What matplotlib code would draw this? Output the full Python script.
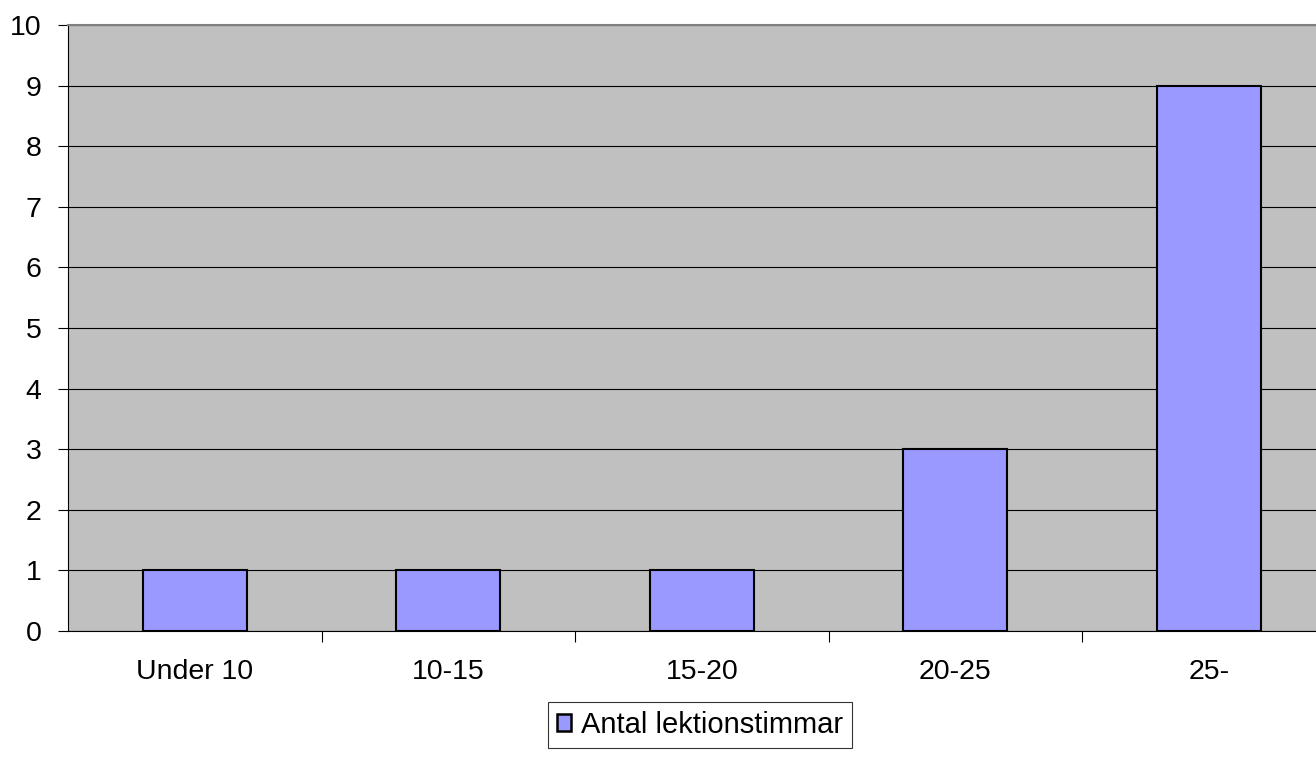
import numpy as np
import matplotlib
matplotlib.use("Agg")
import matplotlib.pyplot as plt

categories = ["Under 10", "10-15", "15-20", "20-25", "25-"]
values = [1, 1, 1, 3, 9]
series_name = "Antal lektionstimmar"
y_ticks = list(range(0, 11))

plt.rcParams['font.family'] = ['Liberation Sans', 'DejaVu Sans']

W, H = 1316, 773
fig = plt.figure(figsize=(W / 100, H / 100), dpi=100)

# plot area runs past the right edge, like the original
left, right, top, bottom = 68, 1335.5, 25, 631
ax = fig.add_axes([left / W, (H - bottom) / H, (right - left) / W, (bottom - top) / H])
ax.set_facecolor('#C0C0C0')

x = np.arange(len(categories))
ax.bar(x, values, width=0.41, color='#9999FF', edgecolor='black', linewidth=1.5,
       zorder=3, label=series_name)

ax.set_xlim(-0.5, len(categories) - 0.5)
ax.set_ylim(0, 10)
ax.set_yticks(y_ticks)
ax.set_yticklabels([str(t) for t in y_ticks], fontsize=20.5)
ax.yaxis.grid(True, color='black', linewidth=0.8, zorder=1)
ax.set_axisbelow(True)

# category boundaries as ticks, labels centered between them
ax.set_xticks(np.arange(0.5, len(categories) - 0.5, 1.0))
ax.set_xticklabels([])
ax.set_xticks(x, minor=True)
ax.set_xticklabels(categories, minor=True, fontsize=20.5)
ax.tick_params(axis='x', which='major', length=8, width=0.8, direction='out')
ax.tick_params(axis='x', which='minor', length=0, pad=20)
ax.tick_params(axis='y', length=7, width=0.8, pad=12)

ax.spines['top'].set_color('#808080')
ax.spines['top'].set_linewidth(1.5)
ax.spines['left'].set_color('black')
ax.spines['bottom'].set_color('black')
ax.spines['right'].set_visible(False)

leg = fig.legend(loc='center', bbox_to_anchor=(700 / W, (H - 725) / H), fontsize=21,
                 frameon=True, fancybox=False, shadow=False, handlelength=0.5,
                 handleheight=0.5, handletextpad=0.35, borderpad=0.3,
                 borderaxespad=0)
leg.get_frame().set_edgecolor('black')
leg.get_frame().set_linewidth(0.8)
for h in leg.legend_handles:
    h.set_linewidth(1.8)

fig.savefig('out.png', dpi=100)
